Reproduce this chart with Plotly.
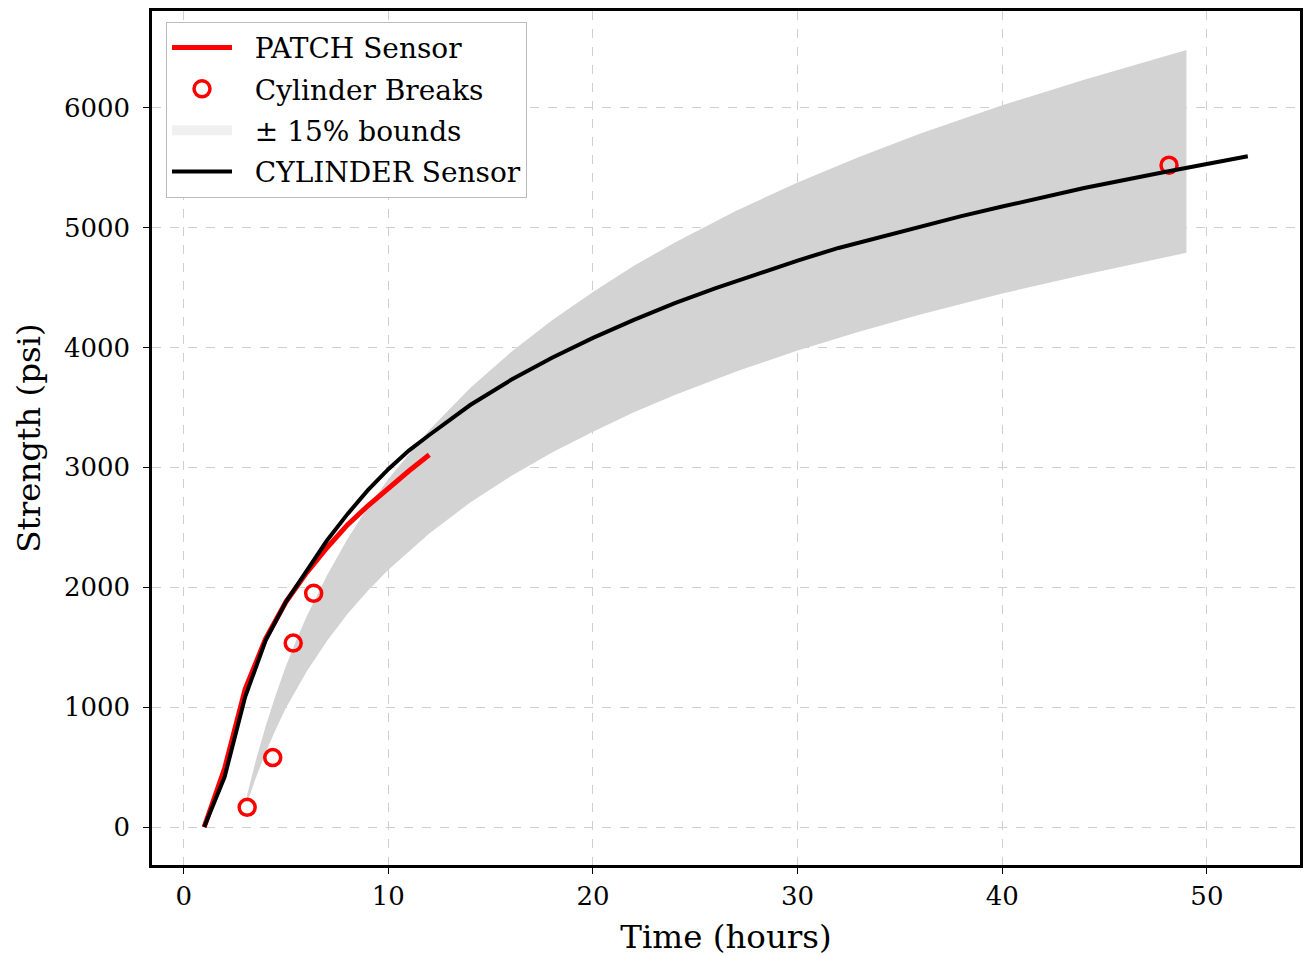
import plotly.graph_objects as go

# CYLINDER Sensor (black line)
cyl_hours = [1, 2, 3, 4, 5, 6, 7, 8, 9, 10, 11, 12, 14, 16, 18, 20, 22, 24, 26, 28, 30,
             32, 35, 38, 40, 44, 48, 52]
cyl_psi = [0, 420, 1085, 1555, 1880, 2130, 2390, 2610, 2810, 2985, 3140, 3270, 3520, 3730,
           3915, 4080, 4230, 4370, 4495, 4610, 4725, 4830, 4965, 5095, 5175, 5330, 5465, 5595]

# PATCH Sensor (red line)
patch_hours = [1, 2, 3, 4, 5, 6, 7, 8, 9, 10, 11, 12]
patch_psi = [0, 490, 1150, 1570, 1880, 2120, 2330, 2520, 2680, 2830, 2970, 3105]

# Cylinder breaks (red open circles)
break_hours = [3.1, 4.35, 5.35, 6.35, 48.15]
break_psi = [165, 580, 1535, 1950, 5520]

# Centre curve of the +/-15% band
band_hours = [3.1, 3.5, 4, 4.5, 5, 5.5, 6, 7, 8, 9, 10, 12, 14, 16, 18, 20, 22, 24, 27, 30,
              33, 36, 40, 44, 49]
band_center = [235, 470, 730, 960, 1170, 1355, 1525, 1825, 2090, 2320, 2525, 2880, 3185,
               3445, 3675, 3880, 4070, 4240, 4470, 4675, 4860, 5030, 5235, 5420, 5635]
band_pct = 0.15
band_upper = [c * (1 + band_pct) for c in band_center]
band_lower = [c * (1 - band_pct) for c in band_center]

x_ticks = [0, 10, 20, 30, 40, 50]
y_ticks = [0, 1000, 2000, 3000, 4000, 5000, 6000]

FONT = "DejaVu Serif"
NB = "\u00a0\u00a0"
fig = go.Figure()

# band (hidden from legend)
fig.add_trace(go.Scatter(x=band_hours, y=band_lower, mode="lines", line=dict(width=0),
                         showlegend=False, hoverinfo="skip", legendgroup="band"))
fig.add_trace(go.Scatter(x=band_hours, y=band_upper, mode="lines", line=dict(width=0),
                         fill="tonexty", fillcolor="rgb(211,211,211)", showlegend=False,
                         hoverinfo="skip", legendgroup="band"))

fig.add_trace(go.Scatter(x=patch_hours, y=patch_psi, mode="lines", name=NB + "PATCH Sensor",
                         line=dict(color="red", width=5), legendrank=1, legendgroup="patch"))
fig.add_trace(go.Scatter(x=break_hours, y=break_psi, mode="markers",
                         name=NB + "Cylinder Breaks",
                         marker=dict(symbol="circle-open", size=16, color="red",
                                     line=dict(width=3.5, color="rgba(235,0,0,0.9)")),
                         legendrank=2, legendgroup="breaks"))
# legend entry for the band
fig.add_trace(go.Scatter(x=[None, None], y=[None, None], mode="lines",
                         name=NB + "± 15% bounds",
                         line=dict(width=20, color="rgb(240,240,240)"), legendrank=3,
                         legendgroup="band"))
fig.add_trace(go.Scatter(x=cyl_hours, y=cyl_psi, mode="lines", name=NB + "CYLINDER Sensor",
                         line=dict(color="black", width=4), legendrank=4,
                         legendgroup="cyl"))

axis_common = dict(
    showline=True, linecolor="black", linewidth=2.5, mirror=True,
    ticks="outside", ticklen=6, tickwidth=1.2, tickcolor="black",
    showgrid=True, gridcolor="#cfcfcf", gridwidth=1, griddash="dash",
    zeroline=False, tickfont=dict(family=FONT, size=26, color="black"),
)
fig.update_xaxes(range=[-1.55, 54.55], tickvals=x_ticks, ticktext=[str(v) for v in x_ticks],
                 title=dict(text="Time (hours)", font=dict(family=FONT, size=32.5, color="black"),
                            standoff=17),
                 **axis_common)
fig.update_yaxes(range=[-316, 6806], tickvals=y_ticks, ticktext=[str(v) for v in y_ticks],
                 ticklabelstandoff=8,
                 title=dict(text="Strength (psi)", font=dict(family=FONT, size=32.5, color="black"),
                            standoff=14),
                 **axis_common)

fig.update_layout(
    width=1303, height=948,
    margin=dict(l=144, r=11, t=0, b=91),
    paper_bgcolor="white", plot_bgcolor="white",
    font=dict(family=FONT, color="black"),
    legend=dict(x=0.0122, y=0.9875, xanchor="left", yanchor="top",
                bgcolor="white", bordercolor="#bbbbbb", borderwidth=1,
                font=dict(family=FONT, size=28, color="black"), itemwidth=60,
                traceorder="grouped", tracegroupgap=2),
)

fig.write_html("out.html")
